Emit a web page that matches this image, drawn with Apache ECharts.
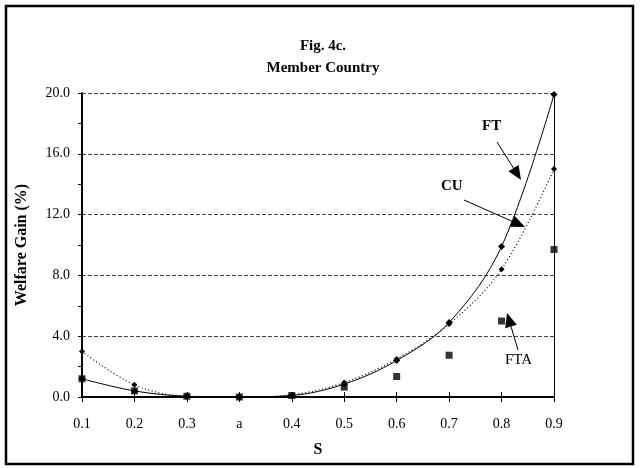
<!DOCTYPE html>
<html>
<head>
<meta charset="utf-8">
<script src="https://cdn.jsdelivr.net/npm/echarts@6/dist/echarts.min.js"></script>
<style>
html,body{margin:0;padding:0;background:#fff;}
#chart{width:642px;height:468px;}
</style>
</head>
<body>
<div id="chart"></div>
<script>
// ---- data ----
var categories = ['0.1','0.2','0.3','a','0.4','0.5','0.6','0.7','0.8','0.9'];
var ftValues  = [1.2, 0.4, 0.05, 0.0, 0.1, 0.85, 2.4, 4.9, 9.9, 19.9];
var cuValues  = [3.0, 0.8, 0.05, 0.0, 0.15, 0.95, 2.5, 4.8, 8.4, 15.0];
var ftaValues = [1.2, 0.4, 0.05, 0.0, 0.1, 0.65, 1.35, 2.75, 5.0, 9.7];
var yTicks = [0, 4, 8, 12, 16, 20];

var FONT = '"Liberation Serif", "DejaVu Serif", serif';
var chart = echarts.init(document.getElementById('chart'), null, {renderer:'canvas'});

function arrow(x1, y1, x2, y2) {
  var dx = x2 - x1, dy = y2 - y1;
  var len = Math.sqrt(dx*dx + dy*dy);
  var ux = dx/len, uy = dy/len;
  var hl = 14, hw = 6;
  var bx = x2 - ux*hl, by = y2 - uy*hl;
  return [
    {type:'line', shape:{x1:x1, y1:y1, x2:bx, y2:by}, style:{stroke:'#000', lineWidth:1}, z:10},
    {type:'polygon', shape:{points:[[x2,y2],[bx - uy*hw, by + ux*hw],[bx + uy*hw, by - ux*hw]]}, style:{fill:'#000'}, z:10}
  ];
}

var graphics = [
  {type:'rect', shape:{x:6, y:6, width:627, height:458}, style:{fill:'none', stroke:'#000', lineWidth:2.5}, z:0},
  {type:'text', left:482, top:119, style:{text:'FT', font:'bold 15px ' + FONT, fill:'#000'}, z:10},
  {type:'text', left:441, top:179, style:{text:'CU', font:'bold 15px ' + FONT, fill:'#000'}, z:10},
  {type:'text', left:505, top:353, style:{text:'FTA', font:'15px ' + FONT, fill:'#000'}, z:10}
].concat(arrow(497, 142, 521, 180)).concat(arrow(464, 200, 525, 227)).concat(arrow(518, 350, 507, 313));

var option = {
  animation: false,
  backgroundColor: '#fff',
  title: {
    text: 'Fig. 4c.\nMember Country',
    left: 318, top: 30, textAlign: 'center',
    textStyle: {fontFamily: FONT, fontWeight: 'bold', fontSize: 15, color: '#000', lineHeight: 22}
  },
  grid: {left: 82, right: 88, top: 93, bottom: 71, containLabel: false},
  xAxis: [{
    type: 'category', data: categories, boundaryGap: false,
    name: 'S', nameLocation: 'middle', nameGap: 45,
    nameTextStyle: {fontFamily: FONT, fontWeight: 'bold', fontSize: 16, color: '#000'},
    axisLine: {show: true, lineStyle: {color: '#000', width: 2}},
    axisTick: {show: true, length: 5, alignWithLabel: true, lineStyle: {color: '#000', width: 1}},
    axisLabel: {fontFamily: FONT, fontSize: 14, color: '#000', margin: 20},
    splitLine: {show: false}
  }, {
    type: 'category', data: categories, boundaryGap: false, position: 'bottom',
    axisLine: {show: false},
    axisTick: {show: true, inside: true, length: 5, lineStyle: {color: '#000', width: 1}},
    axisLabel: {show: false}, splitLine: {show: false}
  }],
  yAxis: [{
    type: 'value', min: 0, max: 20, interval: 4,
    name: 'Welfare Gain (%)', nameLocation: 'middle', nameGap: 52,
    nameTextStyle: {fontFamily: FONT, fontWeight: 'bold', fontSize: 16, color: '#000'},
    axisLine: {show: true, lineStyle: {color: '#000', width: 2}},
    axisTick: {show: true, length: 4, lineStyle: {color: '#000'}},
    minorTick: {show: true, splitNumber: 2, length: 4, lineStyle: {color: '#000'}},
    axisLabel: {fontFamily: FONT, fontSize: 14, color: '#000', margin: 12,
      formatter: function (v) { return yTicks.indexOf(v) >= 0 ? v.toFixed(1) : ''; }},
    splitLine: {show: true, lineStyle: {color: '#444', type: [4, 2], width: 1}}
  }, {
    type: 'value', min: 0, max: 20, interval: 4, position: 'right',
    axisLine: {show: true, lineStyle: {color: '#000', width: 1}},
    axisTick: {show: false}, axisLabel: {show: false}, splitLine: {show: false}
  }],
  series: [{
    name: 'FT', type: 'line', data: ftValues, smooth: 0.35,
    symbol: 'diamond', symbolSize: 7,
    itemStyle: {color: '#000'}, lineStyle: {color: '#000', width: 1, type: 'solid'}, z: 3
  }, {
    name: 'CU', type: 'line', data: cuValues, smooth: 0.35,
    symbol: 'diamond', symbolSize: 6,
    itemStyle: {color: '#000'}, lineStyle: {color: '#000', width: 1.2, type: [1, 2.5]}, z: 3
  }, {
    name: 'FTA', type: 'scatter', data: ftaValues,
    symbol: 'rect', symbolSize: 7,
    itemStyle: {color: '#000'}, z: 4
  }],
  graphic: graphics
};
chart.setOption(option);
</script>
</body>
</html>
